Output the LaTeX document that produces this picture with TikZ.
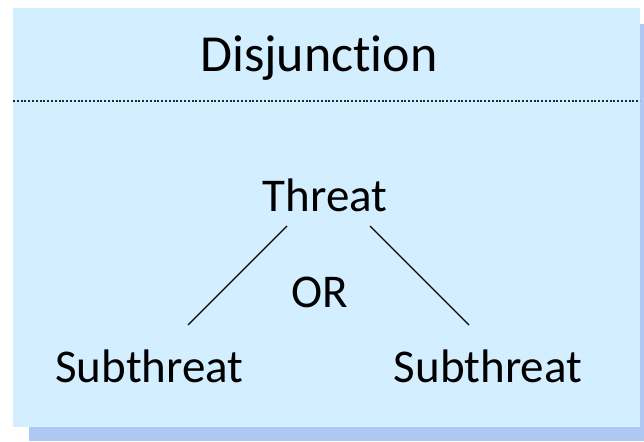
\documentclass[tikz,border=0pt]{standalone}
\usepackage{fontspec}
\setmainfont[Ligatures=CommonOff]{Carlito}
\usepackage{tikz}

\definecolor{boxfill}{RGB}{211,238,255}
\definecolor{boxshadow}{RGB}{173,200,242}

\begin{document}
\begin{tikzpicture}[x=1pt,y=1pt,
  lbl/.style={inner sep=0pt,anchor=base,font=\fontsize{47}{50}\selectfont}]
\useasboundingbox (0,0) rectangle (644,441);
\fill[boxshadow] (29,0) rectangle (644,417);
\fill[boxfill] (13,14) rectangle (640,433);
\draw[line width=1.5pt,black!85,dash pattern=on 1.9pt off 1.9pt] (13,340) -- (640,340);
\node[lbl,font=\fontsize{52}{56}\selectfont] (title) at (319,369) {Disjunction};
\node[lbl] (threat) at (325,229) {Threat};
\node[lbl] (or) at (320,133) {OR};
\node[lbl] (sub1) at (149.5,58) {Subthreat};
\node[lbl] (sub2) at (488,58) {Subthreat};
\draw[line width=1.3pt] ([xshift=-38pt,yshift=-14pt]threat.base) -- ([xshift=38.5pt,yshift=58pt]sub1.base);
\draw[line width=1.3pt] ([xshift=45pt,yshift=-14pt]threat.base) -- ([xshift=-19pt,yshift=58pt]sub2.base);
\end{tikzpicture}
\end{document}
